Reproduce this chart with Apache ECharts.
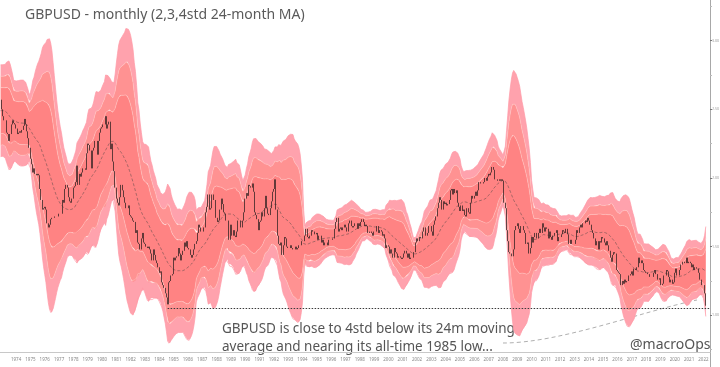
<!DOCTYPE html>
<html><head><meta charset="utf-8">
<script src="https://cdn.jsdelivr.net/npm/echarts@6/dist/echarts.min.js"></script>
<style>html,body{margin:0;padding:0;background:#fff}#c{width:720px;height:367px}</style>
</head><body><div id="c"></div>
<script>
// ---- DATA (monthly closes of GBPUSD, read/estimated from the picture) ----
const START_YEAR = 1971; // first month of closes = Jan 1971 (needed for the 24m MA warm-up)
const closes = [
2.41,2.42,2.42,2.42,2.42,2.42,2.44,2.48,2.48,2.49,2.49,2.55,
2.60,2.62,2.61,2.61,2.61,2.45,2.45,2.45,2.42,2.37,2.35,2.35,
2.38,2.47,2.47,2.48,2.57,2.57,2.50,2.45,2.42,2.42,2.33,2.32,
2.27,2.32,2.39,2.42,2.40,2.39,2.36,2.32,2.33,2.34,2.33,2.35,
2.38,2.43,2.39,2.34,2.29,2.22,2.14,2.10,2.04,2.07,2.03,2.02,
2.03,2.02,1.92,1.84,1.77,1.78,1.79,1.77,1.67,1.64,1.66,1.70,
1.71,1.71,1.72,1.72,1.72,1.72,1.74,1.74,1.74,1.84,1.82,1.92,
1.95,1.93,1.86,1.83,1.82,1.85,1.93,1.94,1.97,2.09,1.95,2.03,
2.01,2.04,2.07,2.07,2.06,2.18,2.25,2.24,2.20,2.07,2.20,2.22,
2.27,2.27,2.17,2.27,2.33,2.36,2.37,2.39,2.39,2.45,2.36,2.39,
2.41,2.21,2.25,2.12,2.05,1.93,1.85,1.82,1.80,1.86,1.95,1.91,
1.86,1.82,1.78,1.78,1.80,1.73,1.72,1.71,1.69,1.68,1.60,1.62,
1.53,1.52,1.48,1.56,1.60,1.53,1.52,1.50,1.49,1.50,1.48,1.45,
1.40,1.48,1.44,1.40,1.38,1.35,1.31,1.32,1.24,1.22,1.20,1.16,
1.13,1.08,1.24,1.25,1.29,1.30,1.42,1.40,1.42,1.43,1.49,1.45,
1.40,1.44,1.47,1.53,1.50,1.54,1.49,1.48,1.44,1.42,1.44,1.48,
1.52,1.54,1.60,1.66,1.64,1.61,1.61,1.64,1.64,1.75,1.79,1.88,
1.77,1.78,1.88,1.88,1.84,1.71,1.71,1.68,1.69,1.77,1.85,1.81,
1.75,1.74,1.69,1.69,1.55,1.55,1.66,1.58,1.62,1.58,1.57,1.61,
1.69,1.69,1.64,1.64,1.69,1.75,1.85,1.89,1.87,1.95,1.94,1.93,
1.96,1.90,1.75,1.73,1.70,1.62,1.68,1.69,1.75,1.72,1.78,1.87,
1.78,1.74,1.73,1.78,1.83,1.90,1.92,1.99,1.77,1.58,1.52,1.51,
1.53,1.44,1.51,1.57,1.56,1.50,1.49,1.49,1.51,1.49,1.48,1.48,
1.50,1.48,1.49,1.51,1.51,1.54,1.54,1.54,1.58,1.63,1.57,1.56,
1.58,1.58,1.62,1.61,1.59,1.59,1.60,1.55,1.58,1.58,1.53,1.55,
1.51,1.53,1.53,1.51,1.55,1.55,1.55,1.56,1.56,1.63,1.68,1.71,
1.61,1.63,1.64,1.62,1.64,1.66,1.64,1.61,1.61,1.67,1.69,1.65,
1.64,1.65,1.67,1.67,1.63,1.67,1.65,1.68,1.70,1.68,1.65,1.66,
1.65,1.60,1.61,1.61,1.60,1.58,1.61,1.61,1.65,1.65,1.60,1.62,
1.61,1.58,1.59,1.56,1.49,1.51,1.50,1.45,1.48,1.45,1.42,1.49,
1.46,1.45,1.42,1.43,1.42,1.41,1.42,1.45,1.47,1.45,1.42,1.45,
1.41,1.42,1.42,1.46,1.46,1.53,1.56,1.54,1.57,1.56,1.56,1.61,
1.64,1.58,1.58,1.60,1.65,1.65,1.61,1.58,1.66,1.69,1.72,1.78,
1.82,1.86,1.84,1.77,1.83,1.81,1.82,1.80,1.81,1.84,1.91,1.92,
1.88,1.92,1.89,1.91,1.82,1.79,1.76,1.80,1.76,1.77,1.73,1.72,
1.78,1.75,1.74,1.82,1.87,1.85,1.87,1.90,1.87,1.91,1.97,1.96,
1.96,1.96,1.97,2.00,1.98,2.01,2.03,2.02,2.04,2.08,2.06,1.99,
1.99,1.99,1.98,1.99,1.98,1.99,1.98,1.82,1.78,1.62,1.54,1.46,
1.45,1.43,1.43,1.48,1.62,1.65,1.67,1.63,1.60,1.65,1.65,1.62,
1.60,1.52,1.52,1.53,1.45,1.49,1.57,1.53,1.57,1.60,1.56,1.56,
1.60,1.63,1.60,1.67,1.64,1.61,1.64,1.63,1.56,1.61,1.57,1.55,
1.58,1.60,1.60,1.62,1.54,1.57,1.57,1.59,1.62,1.61,1.60,1.63,
1.59,1.52,1.52,1.55,1.52,1.52,1.52,1.55,1.62,1.60,1.64,1.66,
1.64,1.67,1.67,1.69,1.68,1.71,1.69,1.66,1.62,1.60,1.56,1.56,
1.51,1.54,1.48,1.54,1.53,1.57,1.56,1.53,1.51,1.54,1.51,1.47,
1.42,1.39,1.44,1.46,1.45,1.33,1.32,1.31,1.30,1.22,1.25,1.23,
1.26,1.24,1.25,1.29,1.29,1.30,1.32,1.29,1.34,1.33,1.35,1.35,
1.42,1.38,1.40,1.38,1.33,1.32,1.31,1.30,1.30,1.28,1.28,1.28,
1.31,1.33,1.30,1.30,1.26,1.27,1.22,1.22,1.23,1.29,1.29,1.33,
1.32,1.28,1.24,1.26,1.23,1.24,1.31,1.34,1.29,1.29,1.33,1.37,
1.37,1.39,1.38,1.38,1.42,1.38,1.39,1.38,1.35,1.37,1.33,1.35,
1.34,1.34,1.31,1.26,1.26,1.22,1.22,1.16,1.07
];
const VIEW_START = [1973, 6];   // first month shown
const VIEW_END = [2022, 12];    // last month slot on the axis
const FIRST_LABEL_YEAR = 1974;
const MA_WINDOW = 24;
const LOW_1985 = 1.052;
const LOW_1985_MONTH = '1985-02';
const TITLE = 'GBPUSD - monthly (2,3,4std 24-month MA)';
const NOTE_1 = 'GBPUSD is close to 4std below its 24m moving';
const NOTE_2 = 'average and nearing its all-time 1985 low...';
const SIGN = '@macroOps';

// ---- build ----
const key = (y, m) => y + '-' + String(m).padStart(2, '0');
const idxOf = {};
closes.forEach((_, i) => { idxOf[key(START_YEAR + Math.floor(i / 12), i % 12 + 1)] = i; });
const cats = [];
for (let y = VIEW_START[0], m = VIEW_START[1]; y < VIEW_END[0] || (y === VIEW_END[0] && m <= VIEW_END[1]);) {
  cats.push(key(y, m)); m++; if (m > 12) { m = 1; y++; }
}
const ma = [], sd = [];
closes.forEach((_, i) => {
  if (i < MA_WINDOW - 1) { ma.push(null); sd.push(null); return; }
  const w = closes.slice(i - MA_WINDOW + 1, i + 1);
  const mean = w.reduce((a, b) => a + b, 0) / w.length;
  const v = w.reduce((a, b) => a + (b - mean) * (b - mean), 0) / w.length;
  ma.push(mean); sd.push(Math.sqrt(v));
});
const col = (f) => cats.map(c => { const i = idxOf[c]; return (i === undefined || ma[i] === null) ? null : f(i); });
const band = (k) => col(i => ma[i] + k * sd[i]);
const L4 = band(-4), L3 = band(-3), L2 = band(-2), U2 = band(2), U3 = band(3), U4 = band(4);
const diff = (a, b) => a.map((v, j) => v === null ? null : v - b[j]);
const maData = col(i => ma[i]);
// candles: [open(prev close), close, low, high]
const candles = [];
cats.forEach(c => {
  const i = idxOf[c]; if (i === undefined) return;
  const o = closes[i - 1], cl = closes[i];
  candles.push([c, o, cl, Math.min(o, cl), Math.max(o, cl)]);
});

const OUTER = '#ffa2ad', MID = '#ff9292', INNER = '#ff8383';
const edge = 'rgba(255,196,192,0.75)';
function area(name, data, color, lineColor) {
  return { name, type: 'line', stack: 'bands', data, symbol: 'none', silent: true, z: 2,
    lineStyle: { width: 0.7, color: lineColor }, areaStyle: { color, opacity: 1 } };
}
const FONT = 'Noto Sans';
const chart = echarts.init(document.getElementById('c'), null, { renderer: 'canvas' });
chart.setOption({
  animation: false,
  backgroundColor: '#fff',
  title: { text: TITLE, left: 20, top: 3, textStyle: { fontSize: 14, fontWeight: 'normal', color: '#5a5a5a', fontFamily: FONT } },
  grid: { left: 0, right: 10, top: -28, bottom: -17, containLabel: false, outerBoundsMode: 'none' },
  xAxis: {
    type: 'category', data: cats, boundaryGap: true, position: 'bottom', offset: -32,
    axisLine: { lineStyle: { color: '#c8c8c8', width: 1 } },
    axisTick: { interval: (i, v) => v.endsWith('-01'), length: 15, lineStyle: { color: '#d0d0d0' } },
    axisLabel: { interval: (i, v) => v.endsWith('-07') && +v.slice(0, 4) >= FIRST_LABEL_YEAR, formatter: v => v.slice(0, 4), fontSize: 4.5, color: '#888', margin: 5, fontFamily: FONT },
    splitLine: { show: false }
  },
  yAxis: {
    type: 'value', position: 'right', min: 0.5, max: 3.5, interval: 0.5,
    axisLine: { show: true, lineStyle: { color: '#a8a8a8' } },
    axisTick: { show: true, length: 2, lineStyle: { color: '#777' } },
    minorTick: { show: true, splitNumber: 2, length: 2, lineStyle: { color: '#bbb' } },
    axisLabel: { fontSize: 3.6, color: '#999', margin: 2, formatter: v => v.toFixed(2), fontFamily: FONT },
    splitLine: { show: false }
  },
  series: [
    { name: 'base', type: 'line', stack: 'bands', data: L4, symbol: 'none', silent: true, z: 2, lineStyle: { width: 0.7, color: '#ff9aa6' } },
    area('l3', diff(L3, L4), OUTER, edge),
    area('l2', diff(L2, L3), MID, edge),
    area('mid', diff(U2, L2), INNER, edge),
    area('u3', diff(U3, U2), MID, edge),
    area('u4', diff(U4, U3), OUTER, '#ff9aa6'),
    { name: 'MA', type: 'line', data: maData, symbol: 'none', silent: true, z: 3,
      lineStyle: { width: 0.8, type: [3, 2], color: 'rgba(110,80,80,0.75)' } },
    { name: 'GBPUSD', type: 'candlestick', data: candles, encode: { x: 0, y: [1, 2, 3, 4] },
      barWidth: 1, large: false, z: 5,
      itemStyle: { color: '#3a2626', color0: '#3a2626', borderColor: '#3a2626', borderColor0: '#3a2626', borderWidth: 0.8 },
      markLine: { silent: true, symbol: 'none', label: { show: false },
        lineStyle: { type: [1.5, 1.5], color: '#3a3a3a', width: 1 },
        data: [[{ coord: [LOW_1985_MONTH, LOW_1985] }, { coord: [cats[cats.length - 1], LOW_1985] }]] } }
  ],
  graphic: [
    { type: 'text', left: 222, top: 322, style: { text: NOTE_1, fontSize: 13.5, fill: '#555', fontFamily: FONT } },
    { type: 'text', left: 222, top: 340, style: { text: NOTE_2, fontSize: 13.5, fill: '#555', fontFamily: FONT } },
    { type: 'text', left: 630, top: 338, style: { text: SIGN, fontSize: 14, fill: '#555', fontFamily: FONT } },
    { type: 'bezierCurve', silent: true, shape: { x1: 503, y1: 343, cpx1: 560, cpy1: 343, cpx2: 640, cpy2: 312, x2: 697, y2: 300 },
      style: { stroke: '#b0b0b0', lineWidth: 1, lineDash: [4, 3], fill: null } }
  ]
});
</script></body></html>
